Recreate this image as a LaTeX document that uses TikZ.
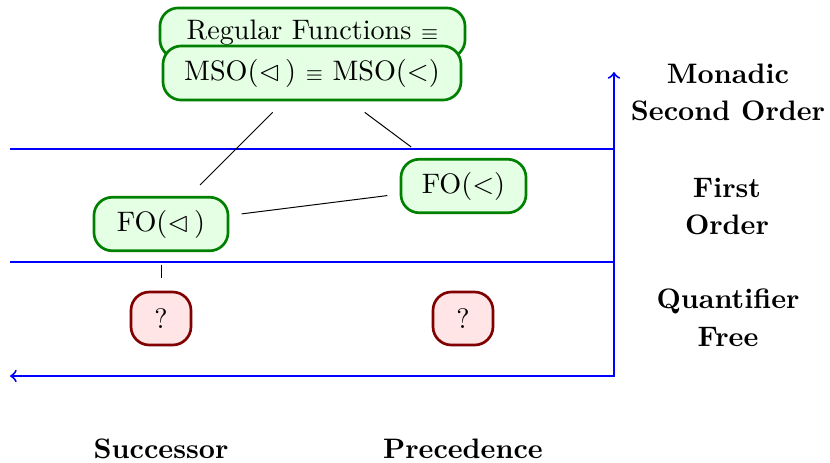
\documentclass[tikz,border=0pt]{standalone}
\usepackage{amssymb}
\begin{document}
\begin{tikzpicture}[x=0.355pt,y=-0.355pt,
 gbox/.style={draw=green!50!black, fill=green!10, line width=0.95pt, rounded corners=6.5pt, minimum height=19pt, inner sep=2pt},
 rbox/.style={draw=red!50!black, fill=red!10, line width=0.95pt, rounded corners=6.5pt, minimum height=18.8pt, minimum width=21.3pt, inner sep=2pt},
 axis/.style={blue, line width=0.7pt},
 link/.style={black, line width=0.35pt},
 lab/.style={font=\bfseries, align=center, inner sep=0pt}]
\useasboundingbox (0,0) rectangle (830,462);
% axes
\coordinate (l1) at (10,149); \coordinate (r1) at (614,149);
\coordinate (l2) at (10,262); \coordinate (r2) at (614,262);
\coordinate (l3) at (10,376); \coordinate (corner) at (614,376);
\coordinate (top) at (614,72);
\draw[axis] (l1) -- (r1);
\draw[axis] (l2) -- (r2);
\draw[axis,<->] (l3) -- (corner) -- (top);
% nodes
\node[gbox, minimum width=108.3pt, minimum height=17.8pt] (reg) at (312.5,33) {Regular Functions $\scriptstyle\equiv$};
\node[gbox, minimum width=105.8pt, minimum height=19.2pt] (mso) at (312,73) {MSO($\vartriangleleft$\,) $\scriptstyle\equiv$ MSO($<$)};
\node[gbox, minimum width=47.6pt] (fos) at (161,224) {FO($\vartriangleleft$\,)};
\node[gbox, minimum width=44.4pt] (fop) at (463.5,186) {FO($<$)};
\node[rbox] (qs) at (161,318.5) {?};
\node[rbox] (qp) at (463,318.5) {?};
% links
\draw[link, shorten <=5.5pt, shorten >=5.5pt] (mso) -- (fos);
\draw[link, shorten <=6.5pt, shorten >=6.5pt] (mso) -- (fop);
\draw[link, shorten <=4.4pt, shorten >=4.4pt] (fos) -- (fop);
\draw[link, shorten <=4.4pt, shorten >=4.4pt] (fos) -- (qs);
% labels
\node[lab] (mon) at (728,92.5) {Monadic\\[1.2pt]Second Order};
\node[lab] (fir) at (727,206.5) {First\\[1.2pt]Order};
\node[lab] (qf) at (728,318) {Quantifier\\[1.6pt]Free};
\node[lab] (suc) at (161,449) {Successor};
\node[lab] (pre) at (463,449) {Precedence};
\end{tikzpicture}
\end{document}
